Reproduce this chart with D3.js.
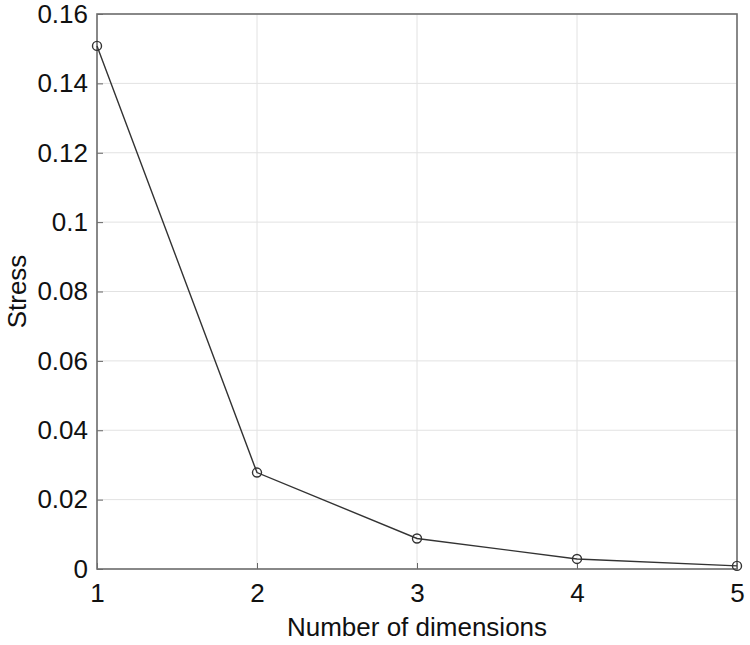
<!DOCTYPE html>
<html>
<head>
<meta charset="utf-8">
<script src="https://d3js.org/d3.v7.min.js"></script>
<style>
  body { margin: 0; background: #fff; }
  text { font-family: "Liberation Sans", Arial, sans-serif; fill: #111; }
</style>
</head>
<body>
<svg id="chart" width="750" height="645"></svg>
<script>
// data
const dims = [1, 2, 3, 4, 5];
const stress = [0.1508, 0.0278, 0.0088, 0.0029, 0.0009];
const yTicks = [0, 0.02, 0.04, 0.06, 0.08, 0.1, 0.12, 0.14, 0.16];
const xTicks = [1, 2, 3, 4, 5];

const svg = d3.select("#chart");
const m = { left: 97, right: 13, top: 14, bottom: 76 };
const W = 750, H = 645;

const x = d3.scaleLinear([1, 5], [m.left, W - m.right]);
const y = d3.scaleLinear([0, 0.16], [H - m.bottom, m.top]);

// grid
svg.append("g").selectAll("line").data(xTicks).join("line")
  .attr("x1", d => x(d)).attr("x2", d => x(d))
  .attr("y1", y(0)).attr("y2", y(0.16))
  .attr("stroke", "#e2e2e2").attr("stroke-width", 1);
svg.append("g").selectAll("line").data(yTicks).join("line")
  .attr("x1", x(1)).attr("x2", x(5))
  .attr("y1", d => y(d)).attr("y2", d => y(d))
  .attr("stroke", "#e2e2e2").attr("stroke-width", 1);

// axes
const xAxis = d3.axisBottom(x).tickValues(xTicks).tickFormat(d3.format("d"))
  .tickSizeInner(-6).tickSizeOuter(0).tickPadding(15);
const yAxis = d3.axisLeft(y).tickValues(yTicks).tickFormat(d => d === 0 ? "0" : String(+d.toFixed(2)))
  .tickSizeInner(-6).tickSizeOuter(0).tickPadding(9);

const gx = svg.append("g").attr("transform", `translate(0,${y(0)})`).call(xAxis);
const gy = svg.append("g").attr("transform", `translate(${x(1)},0)`).call(yAxis);
[gx, gy].forEach(g => {
  g.select(".domain").remove();
  g.selectAll(".tick line").attr("stroke", "#666");
  g.selectAll(".tick text").style("font-size", "26px").attr("fill", "#111");
});

// frame
svg.append("rect")
  .attr("x", x(1)).attr("y", y(0.16))
  .attr("width", x(5) - x(1)).attr("height", y(0) - y(0.16))
  .attr("fill", "none").attr("stroke", "#6e6e6e").attr("stroke-width", 1.6);

// line + markers
const pts = dims.map((d, i) => [d, stress[i]]);
svg.append("path").datum(pts)
  .attr("fill", "none").attr("stroke", "#333").attr("stroke-width", 1.4)
  .attr("d", d3.line().x(d => x(d[0])).y(d => y(d[1])));
svg.append("g").selectAll("circle").data(pts).join("circle")
  .attr("cx", d => x(d[0])).attr("cy", d => y(d[1])).attr("r", 4.5)
  .attr("fill", "none").attr("stroke", "#333").attr("stroke-width", 1.4);

// labels
svg.append("text").attr("x", (x(1) + x(5)) / 2).attr("y", 636)
  .attr("text-anchor", "middle").style("font-size", "26px")
  .text("Number of dimensions");
svg.append("text")
  .attr("transform", `translate(26,${(y(0) + y(0.16)) / 2}) rotate(-90)`)
  .attr("text-anchor", "middle").style("font-size", "26px")
  .text("Stress");
</script>
</body>
</html>
